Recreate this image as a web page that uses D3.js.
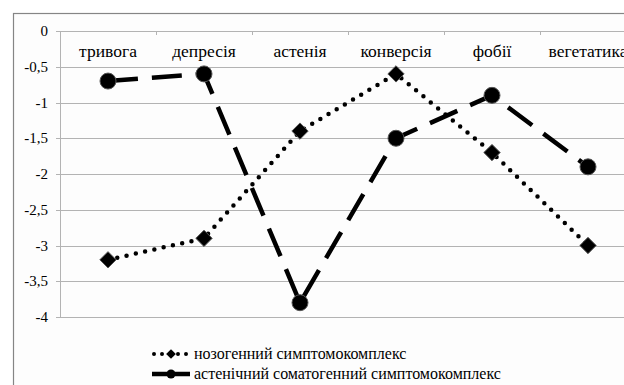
<!DOCTYPE html>
<html>
<meta charset="utf-8">
<head>
  <script src="https://d3js.org/d3.v7.min.js"></script>
  <style>
    body { margin: 0; background: #fff; }
  </style>
</head>
<body>
<div id="chart"></div>
<script>
  // categories along the top axis
  var categories = ["тривога", "депресія", "астенія", "конверсія", "фобії", "вегетатика"];
  // series values
  var nozogenic = [-3.2, -2.9, -1.4, -0.6, -1.7, -3.0];
  var asthenic = [-0.7, -0.6, -3.8, -1.5, -0.9, -1.9];
  var seriesNames = ["нозогенний симптомокомплекс", "астенічний соматогенний симптомокомплекс"];
  var yTicks = [0, -0.5, -1, -1.5, -2, -2.5, -3, -3.5, -4];

  var width = 624, height = 385;
  var serif = "Liberation Serif";

  var svg = d3.select("#chart").append("svg")
      .attr("width", width)
      .attr("height", height);

  // chart area frame (runs off the right and bottom of the picture)
  svg.append("rect")
      .attr("x", 13.5).attr("y", 13.5)
      .attr("width", 700).attr("height", 500)
      .attr("fill", "#fdfdfd")
      .attr("stroke", "#858585")
      .attr("stroke-width", 1.2);

  var x = d3.scaleBand().domain(categories).range([60, 636]);
  var y = d3.scaleLinear().domain([-4, 0]).range([317, 31]);

  // horizontal gridlines
  svg.append("g").selectAll("line")
    .data(yTicks)
    .enter().append("line")
      .attr("x1", 56).attr("x2", 640)
      .attr("y1", function(d) { return Math.round(y(d)) + 0.5; })
      .attr("y2", function(d) { return Math.round(y(d)) + 0.5; })
      .attr("stroke", "#b3b3b3")
      .attr("stroke-width", 1);

  // vertical axis line
  svg.append("line")
      .attr("x1", 60.5).attr("x2", 60.5)
      .attr("y1", y(0)).attr("y2", y(-4))
      .attr("stroke", "#b3b3b3");

  // y tick labels
  svg.append("g").selectAll("text")
    .data(yTicks)
    .enter().append("text")
      .attr("x", 48)
      .attr("y", function(d) { return y(d) + 5; })
      .attr("text-anchor", "end")
      .attr("font-family", serif)
      .attr("font-size", 15)
      .text(function(d) { return String(d).replace(".", ","); });

  // category tick marks on the top axis
  var bounds = categories.map(function(c) { return x(c) + x.bandwidth(); });
  svg.append("g").selectAll("line")
    .data(bounds)
    .enter().append("line")
      .attr("x1", function(d) { return Math.round(d) + 0.5; })
      .attr("x2", function(d) { return Math.round(d) + 0.5; })
      .attr("y1", y(0)).attr("y2", y(0) + 4)
      .attr("stroke", "#b3b3b3");

  // category labels
  svg.append("g").selectAll("text")
    .data(categories)
    .enter().append("text")
      .attr("x", function(d) { return x(d) + x.bandwidth() / 2; })
      .attr("y", 57)
      .attr("text-anchor", "middle")
      .attr("font-family", serif)
      .attr("font-size", 17.5)
      .text(function(d) { return d; });

  var line = d3.line()
      .x(function(d, i) { return x(categories[i]) + x.bandwidth() / 2; })
      .y(function(d) { return y(d); });

  // asthenic series: long dashes, circles
  svg.append("path")
      .attr("d", line(asthenic))
      .attr("fill", "none")
      .attr("stroke", "#000")
      .attr("stroke-width", 4.5)
      .attr("stroke-dasharray", "30 14");

  // nozogenic series: round dots, diamonds
  svg.append("path")
      .attr("d", line(nozogenic))
      .attr("fill", "none")
      .attr("stroke", "#000")
      .attr("stroke-width", 4.5)
      .attr("stroke-linecap", "round")
      .attr("stroke-dasharray", "0 9.5");

  var diamond = d3.symbol().type(d3.symbolDiamond2).size(170);

  svg.append("g").selectAll("path")
    .data(nozogenic)
    .enter().append("path")
      .attr("d", diamond)
      .attr("transform", function(d, i) {
        return "translate(" + (x(categories[i]) + x.bandwidth() / 2) + "," + y(d) + ")";
      })
      .attr("fill", "#000")
      .attr("stroke", "#555")
      .attr("stroke-width", 1);

  svg.append("g").selectAll("circle")
    .data(asthenic)
    .enter().append("circle")
      .attr("cx", function(d, i) { return x(categories[i]) + x.bandwidth() / 2; })
      .attr("cy", function(d) { return y(d); })
      .attr("r", 8)
      .attr("fill", "#000")
      .attr("stroke", "#555")
      .attr("stroke-width", 1);

  // legend
  var legend = svg.append("g");
  var rows = [354, 374];

  legend.append("line")
      .attr("x1", 154).attr("x2", 188)
      .attr("y1", rows[0]).attr("y2", rows[0])
      .attr("stroke", "#000")
      .attr("stroke-width", 4)
      .attr("stroke-linecap", "round")
      .attr("stroke-dasharray", "0 8");
  legend.append("path")
      .attr("d", d3.symbol().type(d3.symbolDiamond2).size(60))
      .attr("transform", "translate(171," + rows[0] + ")")
      .attr("fill", "#000");

  legend.append("line")
      .attr("x1", 152).attr("x2", 190)
      .attr("y1", rows[1]).attr("y2", rows[1])
      .attr("stroke", "#000")
      .attr("stroke-width", 4.5);
  legend.append("circle")
      .attr("cx", 171).attr("cy", rows[1])
      .attr("r", 4.5)
      .attr("fill", "#000");

  legend.selectAll("text")
    .data(seriesNames)
    .enter().append("text")
      .attr("x", 194)
      .attr("y", function(d, i) { return rows[i] + 5; })
      .attr("font-family", serif)
      .attr("font-size", 16)
      .text(function(d) { return d; });
</script>
</body>
</html>
